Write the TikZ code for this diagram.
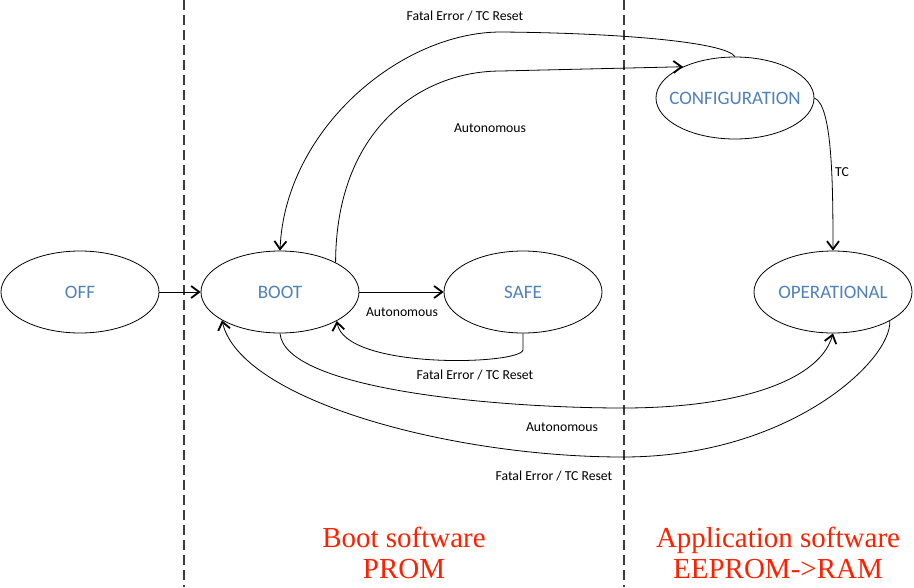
\documentclass[tikz,border=0pt]{standalone}
\usepackage{fontspec}
\setmainfont{Carlito}
\newfontfamily\redfont{Liberation Serif}
\usetikzlibrary{arrows.meta,shapes.geometric}
\definecolor{stateblue}{RGB}{79,129,189}
\definecolor{labelred}{RGB}{255,32,0}
\definecolor{dashgray}{RGB}{60,60,60}
\newcommand{\stxt}[1]{\makebox[0pt]{#1}}
\begin{document}
\begin{tikzpicture}[x=1pt,y=-1pt,
  state/.style={ellipse, draw, fill=white, line width=0.8pt, minimum width=158pt, minimum height=82pt, inner sep=0pt, font=\fontsize{19}{22}\selectfont, text=stateblue},
  lbl/.style={font=\fontsize{13.7}{16}\selectfont, inner sep=0pt},
  conn/.style={line width=0.8pt, -{Straight Barb[length=8pt,width=12pt,line width=1.8pt]}},
  divider/.style={draw=dashgray, line width=1.6pt, dash pattern=on 10pt off 5pt},
  region/.style={font=\redfont\fontsize{29}{31}\selectfont, text=labelred, align=center, inner sep=0pt}]
\useasboundingbox (0,0) rectangle (914,587);
% dividers
\coordinate (d1t) at (184,0); \coordinate (d1b) at (184,587);
\coordinate (d2t) at (624,0); \coordinate (d2b) at (624,587);
\draw[divider] (d1t) -- (d1b);
\draw[divider] (d2t) -- (d2b);
% states
\node[state] (off) at (80,292) {\stxt{OFF}};
\node[state] (boot) at (280,292) {\stxt{BOOT}};
\node[state] (safe) at (523,292) {\stxt{SAFE}};
\node[state] (oper) at (833,292) {\stxt{OPERATIONAL}};
\node[state] (config) at (735,98) {\stxt{CONFIGURATION}};
% connectors
\draw[conn] (off.east) -- (boot.west);
\draw[conn] (boot.east) -- (safe.west);
\draw[conn] (safe.south) -- (523,350) .. controls (520,365) and (345,370) .. (boot.-27);
\draw[conn] (boot.28) .. controls (336,130) and (420,71) .. (501,71) -- (config.149);
\draw[conn] (config.north) .. controls (725,42) and (620,33) .. (501,32) .. controls (400,32) and (285,130) .. (boot.north);
\draw[conn] (config.east) .. controls (832,105) and (833,180) .. (oper.north);
\draw[conn] (boot.south) .. controls (285,390) and (500,408) .. (623,408) .. controls (740,408) and (820,380) .. (oper.south);
\draw[conn] (oper.-27) .. controls (892,360) and (790,457) .. (623,457) .. controls (450,457) and (240,400) .. (boot.206);
% labels
\node[lbl] (l1) at (465,16) {Fatal Error / TC Reset};
\node[lbl] (l2) at (490,128) {Autonomous};
\node[lbl] (l3) at (402,312) {Autonomous};
\node[lbl] (l4) at (475,375) {Fatal Error / TC Reset};
\node[lbl] (l5) at (562,427) {Autonomous};
\node[lbl] (l6) at (554,476) {Fatal Error / TC Reset};
\node[lbl] (l7) at (842,172) {TC};
\node[region] (bootsw) at (404,553) {Boot software\\PROM};
\node[region] (appsw) at (778,553) {Application software\\EEPROM->RAM};
\end{tikzpicture}
\end{document}
